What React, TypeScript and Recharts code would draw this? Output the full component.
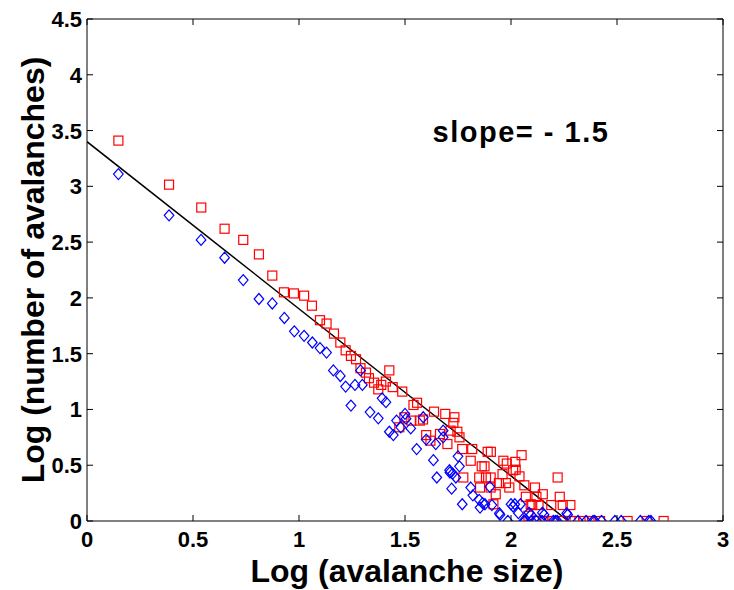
import React from "react"
import { Label, ReferenceDot, ReferenceLine, Scatter, ScatterChart, XAxis, YAxis } from "recharts"

const X_TICKS = [0, 0.5, 1, 1.5, 2, 2.5, 3]
const Y_TICKS = [0, 0.5, 1, 1.5, 2, 2.5, 3, 3.5, 4, 4.5]

// red squares (log size, log count)
const RED_SQUARES: Array<[number, number]> = [
  [0.148, 3.41], [0.387, 3.015], [0.539, 2.81], [0.649, 2.62], [0.737, 2.52], [0.811, 2.39],
  [0.874, 2.2], [0.929, 2.05], [0.976, 2.04], [1.024, 2.02], [1.061, 1.93], [1.099, 1.8],
  [1.13, 1.77], [1.165, 1.68], [1.195, 1.6], [1.22, 1.53], [1.245, 1.48], [1.269, 1.45],
  [1.29, 1.37], [1.316, 1.33], [1.33, 1.28], [1.354, 1.24], [1.374, 1.18], [1.388, 1.22],
  [1.41, 1.25], [1.426, 1.35], [1.442, 1.2], [1.473, 0.84], [1.487, 1.16], [1.497, 0.93],
  [1.53, 0.9], [1.54, 1.04], [1.557, 1.06], [1.57, 0.9], [1.585, 0.91], [1.6, 0.77],
  [1.62, 0.72], [1.637, 0.98], [1.665, 0.78], [1.69, 0.96], [1.7, 0.69], [1.715, 0.81],
  [1.728, 0.88], [1.733, 0.93], [1.747, 0.8], [1.757, 0.75], [1.77, 0.645], [1.775, 0.39],
  [1.81, 0.54], [1.817, 0.645], [1.85, 0.39], [1.854, 0.3], [1.862, 0.49], [1.875, 0.49],
  [1.882, 0.39], [1.89, 0.62], [1.905, 0.62], [1.904, 0.39], [1.904, 0.3], [1.917, 0.15],
  [1.928, 0.24], [1.943, 0.34], [1.964, 0.54], [1.96, 0.42], [1.976, 0.34], [1.98, 0.515],
  [1.992, 0.3], [2.01, 0.455], [2.02, 0.53], [2.022, 0.46], [2.04, 0.4], [2.05, 0.59],
  [2.063, 0.32], [2.07, 0.217], [2.082, 0.047], [2.093, 0.15], [2.1, 0.143], [2.113, 0.3],
  [2.12, 0.217], [2.13, 0.143], [2.15, 0.24], [2.19, 0.143], [2.22, 0.39], [2.23, 0.217],
  [2.244, 0.143], [2.28, 0.143],
  [2.12, 0], [2.15, 0], [2.18, 0], [2.2, 0], [2.245, 0], [2.28, 0], [2.3, 0], [2.34, 0],
  [2.37, 0], [2.42, 0], [2.55, 0], [2.64, 0], [2.72, 0],
]

// blue diamonds
const BLUE_DIAMONDS: Array<[number, number]> = [
  [0.148, 3.11], [0.387, 2.74], [0.538, 2.52], [0.649, 2.36], [0.737, 2.16], [0.811, 1.99],
  [0.874, 1.95], [0.931, 1.82], [0.978, 1.7], [1.024, 1.66], [1.063, 1.6], [1.099, 1.55],
  [1.13, 1.51], [1.162, 1.35], [1.195, 1.3], [1.22, 1.205], [1.245, 1.035], [1.264, 1.22],
  [1.29, 1.35], [1.299, 1.22], [1.335, 0.976], [1.374, 0.92], [1.392, 1.1], [1.41, 1.065],
  [1.426, 0.8], [1.445, 0.77], [1.46, 0.9], [1.48, 0.84], [1.5, 0.96], [1.505, 0.917],
  [1.527, 0.83], [1.555, 0.645], [1.586, 0.93], [1.6, 0.73], [1.634, 0.545], [1.645, 0.69],
  [1.65, 0.39], [1.68, 0.81], [1.68, 0.75], [1.71, 0.455], [1.712, 0.435], [1.72, 0.29],
  [1.725, 0.425], [1.74, 0.39], [1.75, 0.58], [1.757, 0.49], [1.77, 0.15], [1.81, 0.3],
  [1.82, 0.23], [1.85, 0.19], [1.854, 0.12], [1.866, 0.16], [1.877, 0.15], [1.9, 0.306],
  [1.91, 0.143], [1.945, 0.07], [1.948, 0.056], [1.985, 0], [2.0, 0.15], [2.01, 0.13],
  [2.018, 0.15], [2.035, 0.07], [2.045, 0.15], [2.06, 0], [2.085, 0.075], [2.094, 0.056],
  [2.097, 0], [2.148, 0.075], [2.156, 0.056], [2.263, 0.07], [2.267, 0.056],
  [2.066, 0], [2.12, 0], [2.146, 0], [2.2, 0], [2.21, 0], [2.218, 0], [2.316, 0], [2.354, 0],
  [2.387, 0], [2.395, 0], [2.427, 0], [2.49, 0], [2.52, 0], [2.61, 0], [2.65, 0], [2.66, 0],
]

// fitted line, slope -1.5
const FIT_LINE: Array<[number, number]> = [
  [0, 3.4],
  [2.27, 0],
]

const FONT = "'Liberation Sans', Arial, Helvetica, sans-serif"

const toPoints = (list: Array<[number, number]>) => list.map(([x, y]) => ({ x, y }))

const RedSquare = (props: any) => {
  const { cx, cy } = props
  if (cx == null || cy == null) return <g />
  return <rect x={cx - 4.5} y={cy - 4.5} width={9} height={9} fill="none" stroke="#ff0000" strokeWidth={1.2} />
}

const BlueDiamond = (props: any) => {
  const { cx, cy } = props
  if (cx == null || cy == null) return <g />
  const pts = `${cx},${cy - 5.5} ${cx + 4.8},${cy} ${cx},${cy + 5.5} ${cx - 4.8},${cy}`
  return <polygon points={pts} fill="none" stroke="#0000ff" strokeWidth={1.2} />
}

// inward ticks on bottom + mirrored on top (box style)
const BottomTick = (props: any) => {
  const { x, y, payload } = props
  return (
    <g>
      <line x1={x} y1={y} x2={x} y2={y - 6} stroke="#000" strokeWidth={1} />
      <line x1={x} y1={19} x2={x} y2={25} stroke="#000" strokeWidth={1} />
      <text x={x} y={y + 26} textAnchor="middle" fontFamily={FONT} fontWeight="bold" fontSize={22} fill="#000">
        {payload.value}
      </text>
    </g>
  )
}

const LeftTick = (props: any) => {
  const { x, y, payload } = props
  return (
    <g>
      <line x1={x} y1={y} x2={x + 6} y2={y} stroke="#000" strokeWidth={1} />
      <line x1={723} y1={y} x2={717} y2={y} stroke="#000" strokeWidth={1} />
      <text x={x - 5} y={y + 8} textAnchor="end" fontFamily={FONT} fontWeight="bold" fontSize={22} fill="#000">
        {payload.value}
      </text>
    </g>
  )
}

export default function App() {
  return (
    <div style={{ position: "absolute", left: 0, top: 0, background: "#fff" }}>
      <ScatterChart width={734} height={590} margin={{ top: 19, right: 11, bottom: 0, left: 0 }}>
        <XAxis
          xAxisId="bottom"
          type="number"
          dataKey="x"
          domain={[0, 3]}
          ticks={X_TICKS}
          allowDataOverflow
          height={69}
          stroke="#000"
          tickLine={false}
          tickSize={0}
          tickMargin={0}
          tick={<BottomTick />}
          interval={0}
        >
          <Label
            content={(p: any) => {
              const vb = p.viewBox
              return (
                <text
                  x={vb.x + vb.width / 2 + 2}
                  y={vb.y + 61}
                  textAnchor="middle"
                  fontFamily={FONT}
                  fontWeight="bold"
                  fontSize={32}
                  fill="#000"
                >
                  Log (avalanche size)
                </text>
              )
            }}
          />
        </XAxis>
        <YAxis
          yAxisId="left"
          type="number"
          dataKey="y"
          domain={[0, 4.5]}
          ticks={Y_TICKS}
          allowDataOverflow
          width={87}
          stroke="#000"
          tickLine={false}
          tickSize={0}
          tickMargin={0}
          tick={<LeftTick />}
          interval={0}
        >
          <Label
            content={(p: any) => {
              const vb = p.viewBox
              const cx = 33
              const cy = vb.y + vb.height / 2
              return (
                <text
                  x={cx}
                  y={cy}
                  transform={`rotate(-90 ${cx} ${cy})`}
                  textAnchor="middle"
                  dominantBaseline="central"
                  fontFamily={FONT}
                  fontWeight="bold"
                  fontSize={32}
                  fill="#000"
                >
                  Log (number of avalanches)
                </text>
              )
            }}
          />
        </YAxis>
        <ReferenceLine xAxisId="bottom" yAxisId="left" y={4.5} stroke="#000" strokeWidth={1} />
        <ReferenceLine xAxisId="bottom" yAxisId="left" x={3} stroke="#000" strokeWidth={1} />
        <Scatter
          xAxisId="bottom"
          yAxisId="left"
          data={toPoints(FIT_LINE)}
          line={{ stroke: "#000", strokeWidth: 1.5 }}
          shape={() => <g />}
          isAnimationActive={false}
        />
        <Scatter
          xAxisId="bottom"
          yAxisId="left"
          data={toPoints(RED_SQUARES)}
          shape={<RedSquare />}
          isAnimationActive={false}
        />
        <Scatter
          xAxisId="bottom"
          yAxisId="left"
          data={toPoints(BLUE_DIAMONDS)}
          shape={<BlueDiamond />}
          isAnimationActive={false}
        />
        <ReferenceDot
          xAxisId="bottom"
          yAxisId="left"
          x={1.63}
          y={3.49}
          r={0}
          fill="none"
          stroke="none"
          label={(p: any) => {
            const vb = p.viewBox
            return (
              <text
                x={vb.x}
                y={vb.y + 10}
                fontFamily={FONT}
                fontWeight="bold"
                fontSize={29}
                letterSpacing={1.5}
                fill="#000"
              >
                slope= - 1.5
              </text>
            )
          }}
        />
      </ScatterChart>
    </div>
  )
}
